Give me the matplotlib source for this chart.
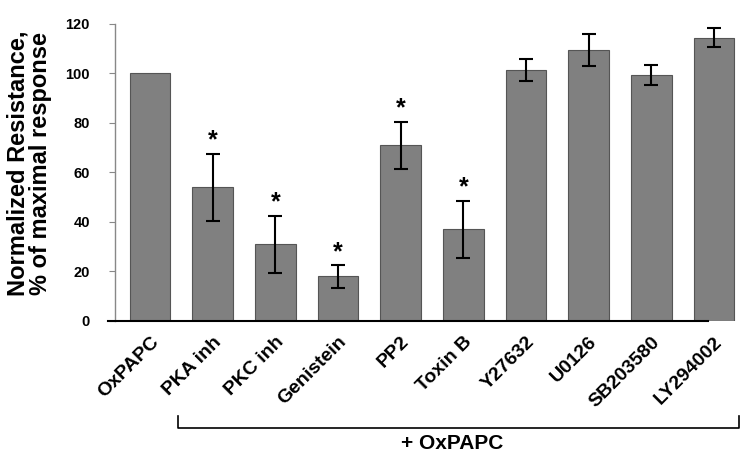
import numpy as np
import matplotlib
matplotlib.use("Agg")
import matplotlib.pyplot as plt
from matplotlib.lines import Line2D

plt.rcParams['font.family'] = ['Liberation Sans', 'DejaVu Sans']

# data
treatments = ['OxPAPC', 'PKA inh', 'PKC inh', 'Genistein', 'PP2', 'Toxin B',
              'Y27632', 'U0126', 'SB203580', 'LY294002']
resistance = [100, 54, 31, 18, 71, 37, 101.5, 109.5, 99.5, 114.5]
sem = [0, 13.5, 11.5, 4.5, 9.5, 11.5, 4.5, 6.5, 4.0, 4.0]
significant = [False, True, True, True, True, True, False, False, False, False]

fig = plt.figure(figsize=(7.54, 4.62), dpi=100)
ax = fig.add_axes([0.1525, 0.3052, 0.836, 0.643])

x = np.arange(len(treatments))
ax.bar(x, resistance, width=0.65, color='#808080', edgecolor='#555555', linewidth=0.8, zorder=2)
ax.errorbar(x[1:], resistance[1:], yerr=sem[1:], fmt='none', ecolor='black',
            elinewidth=1.5, capsize=5, capthick=1.5, zorder=3)

# significance stars
for xi, v, e, s in zip(x, resistance, sem, significant):
    if s:
        ax.text(xi, v + e + 0.5, '*', ha='center', va='bottom',
                fontsize=18, fontweight='bold')

ax.set_xlim(-0.56, 9.5)
ax.set_ylim(0, 120)
ax.set_yticks([0, 20, 40, 60, 80, 100, 120])
ax.tick_params(axis='y', labelsize=10.5, length=4, color='#888888', width=0.8, pad=14)
for lab in ax.get_yticklabels():
    lab.set_fontweight('bold')

ax.set_xticks(x)
ax.set_xticklabels(treatments, rotation=45, ha='right', rotation_mode='anchor',
                   fontsize=14, fontweight='bold')
ax.tick_params(axis='x', length=0, pad=9)

ax.spines['top'].set_visible(False)
ax.spines['right'].set_visible(False)
ax.spines['left'].set_color('#888888')
ax.spines['left'].set_linewidth(1.0)
ax.spines['bottom'].set_linewidth(1.5)
ax.spines['bottom'].set_bounds(-0.67, 8.91)

ax.set_ylabel('Normalized Resistance,\n% of maximal response', fontsize=17,
              fontweight='bold', linespacing=0.95)
ax.yaxis.set_label_coords(-0.1, 0.53)

# bracket under labels
fig.add_artist(Line2D([0.236, 0.236, 0.980, 0.980], [0.0996, 0.0736, 0.0736, 0.0996],
                      color='black', lw=1.2, transform=fig.transFigure))
fig.text(0.6, 0.041, '+ OxPAPC', ha='center', va='center', fontsize=15, fontweight='bold')

fig.savefig('out.png', dpi=100)
